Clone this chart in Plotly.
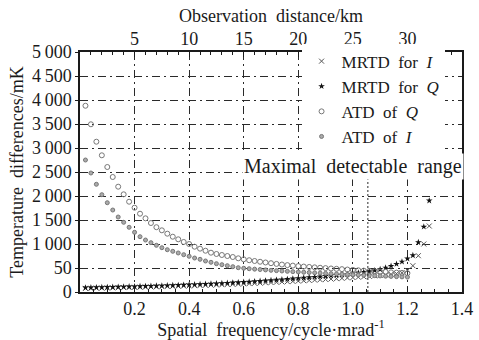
import plotly.graph_objects as go

# ---------------- data ----------------
freq_atd = [0.02, 0.04, 0.06, 0.08, 0.10, 0.12, 0.14, 0.16, 0.18, 0.20,
            0.22, 0.24, 0.26, 0.28, 0.30, 0.32, 0.34, 0.36, 0.38, 0.40,
            0.42, 0.44, 0.46, 0.48, 0.50, 0.52, 0.54, 0.56, 0.58, 0.60,
            0.62, 0.64, 0.66, 0.68, 0.70, 0.72, 0.74, 0.76, 0.78, 0.80,
            0.82, 0.84, 0.86, 0.88, 0.90, 0.92, 0.94, 0.96, 0.98, 1.00,
            1.02, 1.04, 1.06, 1.08, 1.10, 1.12, 1.14, 1.16, 1.18, 1.20]
freq_mrtd = freq_atd + [1.22, 1.24, 1.26, 1.28]

atd_q = [3880, 3494, 3131, 2848, 2604, 2396, 2194, 2035, 1881, 1756,
         1631, 1535, 1437, 1350, 1285, 1215, 1152, 1098, 1042, 1000,
         944, 903, 860, 819, 792, 771, 750, 729, 702, 681,
         662, 646, 630, 615, 600, 585, 572, 560, 550, 540,
         530, 522, 514, 505, 498, 490, 483, 476, 468, 460,
         452, 445, 440, 432, 425, 418, 410, 404, 398, 392]

atd_i = [2750, 2479, 2244, 2027, 1860, 1708, 1562, 1452, 1348, 1244,
         1152, 1083, 1027, 973, 923, 881, 848, 813, 777, 744,
         708, 681, 646, 619, 590, 569, 548, 527, 506, 495,
         485, 476, 468, 460, 452, 445, 438, 431, 424, 418,
         412, 406, 400, 394, 388, 382, 377, 372, 366, 360,
         355, 350, 345, 340, 335, 330, 325, 320, 315, 310]

mrtd_q = [90, 92, 95, 98, 100, 103, 106, 109, 112, 115,
          118, 121, 124, 128, 131, 135, 139, 143, 147, 152,
          156, 161, 166, 171, 176, 182, 188, 194, 200, 207,
          214, 221, 228, 236, 244, 252, 260, 268, 277, 286,
          295, 304, 313, 322, 331, 340, 350, 360, 370, 385,
          400, 415, 430, 450, 473, 506, 542, 583, 631, 694,
          764, 1035, 1360, 1902]

mrtd_i = [75, 77, 80, 82, 85, 87, 90, 92, 95, 98,
          100, 103, 106, 109, 112, 115, 118, 121, 125, 128,
          132, 136, 140, 144, 148, 152, 157, 161, 166, 171,
          176, 181, 186, 192, 198, 204, 210, 216, 222, 229,
          235, 242, 249, 256, 263, 270, 278, 286, 294, 302,
          310, 318, 327, 336, 346, 356, 368, 382, 400, 450,
          548, 756, 1000, 1375]

x_tickvals = [0.2, 0.4, 0.6, 0.8, 1.0, 1.2, 1.4]
x_ticktext = ["0.2", "0.4", "0.6", "0.8", "1.0", "1.2", "1.4"]
top_range = [0, 35]
top_tickvals = [5, 10, 15, 20, 25, 30]
top_ticktext = ["5", "10", "15", "20", "25", "30"]
y_tickvals = [0, 500, 1000, 1500, 2000, 2500, 3000, 3500, 4000, 4500, 5000]
y_ticktext = ["0", "50", "1\u2009000", "1\u2009500", "2\u2009000", "2\u2009500",
              "3\u2009000", "3\u2009500", "4\u2009000", "4\u2009500", "5\u2009000"]
max_range_freq = 1.055
max_range_top = 2430

# ---------------- figure ----------------
FONT = "Liberation Serif"
INK = "#1a1a1a"
GRID = "#2a2a2a"
DASHDOT = "8px,4px,2px,4px"

fig = go.Figure()
fig.add_trace(go.Scatter(x=freq_mrtd, y=mrtd_i, mode="markers", name="MRTD  for  <i>I</i>",
                         marker=dict(symbol="x-thin-open", size=5, color="#555",
                                     line=dict(width=1, color="#555"))))
fig.add_trace(go.Scatter(x=freq_mrtd, y=mrtd_q, mode="markers", name="MRTD  for  <i>Q</i>",
                         marker=dict(symbol="star", size=5, color="#111")))
fig.add_trace(go.Scatter(x=freq_atd, y=atd_q, mode="markers", name="ATD  of  <i>Q</i>",
                         marker=dict(symbol="circle-open", size=5, color="#777",
                                     line=dict(width=1, color="#777"))))
fig.add_trace(go.Scatter(x=freq_atd, y=atd_i, mode="markers", name="ATD  of  <i>I</i>",
                         marker=dict(symbol="circle", size=4, color="#aaa",
                                     line=dict(width=1, color="#777"))))
# empty trace that only makes the top (observation distance) axis render
fig.add_trace(go.Scatter(x=top_range, y=[None, None], xaxis="x2", mode="markers",
                         showlegend=False, hoverinfo="skip"))

fig.add_shape(type="line", x0=max_range_freq, x1=max_range_freq, y0=0, y1=max_range_top,
              xref="x", yref="y", line=dict(color=GRID, width=1, dash="2px,2px"))

fig.add_annotation(x=1.4, y=2620, xref="x", yref="y", xanchor="right", yanchor="middle",
                   xshift=2, text="Maximal  detectable  range", showarrow=False,
                   font=dict(family=FONT, size=20, color=INK), bgcolor="white", borderpad=1)

axis_common = dict(showline=True, linecolor=INK, linewidth=1.5, automargin=False,
                   tickfont=dict(family=FONT, size=18, color=INK), zeroline=False)

fig.update_layout(
    width=479, height=340,
    margin=dict(l=80, r=17, t=52, b=48),
    paper_bgcolor="white", plot_bgcolor="white",
    font=dict(family=FONT, size=18, color=INK),
    showlegend=True,
    legend=dict(x=0.58, xanchor="left", y=1.035, yanchor="top", bgcolor="white",
                borderwidth=0, font=dict(family=FONT, size=17, color=INK),
                itemwidth=30, tracegroupgap=0, entrywidth=160, entrywidthmode="pixels"),
    xaxis=dict(range=[0, 1.4], tickvals=x_tickvals, ticktext=x_ticktext,
               ticks="inside", ticklen=5, tickcolor=INK, mirror=True,
               minor=dict(ticks="inside", ticklen=3, dtick=0.05, tick0=0, tickcolor=INK,
                          showgrid=False),
               showgrid=True, gridcolor=GRID, gridwidth=1, griddash=DASHDOT,
               title=dict(text="Spatial  frequency/cycle\u00b7mrad<sup>-1</sup>",
                          font=dict(family=FONT, size=18, color=INK), standoff=4),
               **axis_common),
    xaxis2=dict(range=top_range, overlaying="x", side="top", anchor="y",
                tickvals=top_tickvals, ticktext=top_ticktext,
                ticks="inside", ticklen=5, tickcolor=INK, ticklabelstandoff=-2,
                minor=dict(ticks="inside", ticklen=3, dtick=1, tick0=0, tickcolor=INK,
                           showgrid=False),
                showgrid=False,
                title=dict(text="Observation  distance/km",
                           font=dict(family=FONT, size=18, color=INK), standoff=2),
                **axis_common),
    yaxis=dict(range=[0, 5000], tickvals=y_tickvals, ticktext=y_ticktext,
               ticks="outside", ticklen=3, tickcolor=INK, mirror=True,
               showgrid=True, gridcolor=GRID, gridwidth=1, griddash=DASHDOT,
               title=dict(text="Temperature  differences/mK",
                          font=dict(family=FONT, size=18, color=INK), standoff=4),
               **axis_common),
)

fig.write_html("out.html")
